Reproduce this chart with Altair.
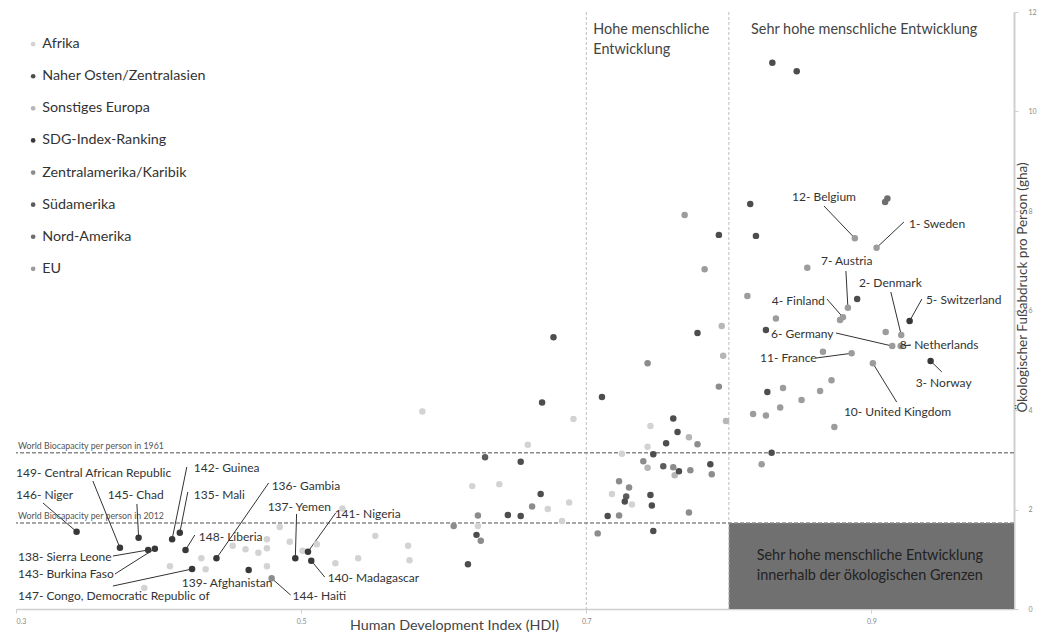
import altair as alt
import pandas as pd

FONT = "Lato"

regions = ["Afrika", "Naher Osten/Zentralasien", "Sonstiges Europa", "SDG-Index-Ranking",
           "Zentralamerika/Karibik", "Südamerika", "Nord-Amerika", "EU"]
region_colors = ["#d3d3d3", "#4d4d4d", "#b6b6b6", "#383838", "#8c8c8c", "#5c5c5c", "#6e6e6e", "#9c9c9c"]

afrika_hdi = [0.390, 0.408, 0.430, 0.433, 0.452, 0.461, 0.470, 0.476, 0.476, 0.476, 0.485, 0.492, 0.501,
              0.511, 0.524, 0.529, 0.552, 0.575, 0.576, 0.540, 0.585, 0.691, 0.659, 0.620, 0.639, 0.673,
              0.688, 0.624, 0.683, 0.745, 0.743, 0.725, 0.718, 0.732]
afrika_gha = [0.42, 0.86, 1.02, 0.80, 1.27, 1.20, 1.13, 1.40, 1.22, 0.86, 1.65, 1.35, 1.17,
              1.30, 0.92, 2.02, 1.47, 1.27, 0.98, 1.02, 3.97, 3.82, 3.30, 2.47, 2.51, 2.01,
              2.14, 1.67, 1.77, 3.68, 3.26, 3.12, 2.31, 2.10]

europa_hdi = [0.795, 0.796, 0.798, 0.772, 0.743, 0.762]
europa_gha = [5.69, 5.09, 3.78, 3.45, 2.84, 2.69]

zentral_hdi = [0.662, 0.624, 0.607, 0.626, 0.740, 0.761, 0.773, 0.788, 0.723, 0.730, 0.723, 0.772,
               0.708, 0.778, 0.743, 0.793]
zentral_gha = [2.06, 1.88, 1.67, 1.37, 2.97, 2.85, 2.79, 2.71, 2.57, 2.44, 1.88, 1.94,
               1.52, 3.31, 4.94, 4.47]

eu_hdi = [0.769, 0.783, 0.855, 0.813, 0.878, 0.833, 0.910, 0.866, 0.872, 0.864, 0.851, 0.838,
          0.836, 0.817, 0.826, 0.874, 0.823]
eu_gha = [7.92, 6.83, 6.86, 6.29, 5.81, 5.84, 5.57, 5.17, 4.60, 4.38, 4.20, 4.44,
          4.05, 3.92, 3.89, 3.66, 2.91]

sued_hdi = [0.629, 0.728, 0.754]
sued_gha = [3.05, 2.26, 2.87]

nord_hdi = [0.9096, 0.9112]
nord_gha = [8.18, 8.25]

nahost_hdi = [0.669, 0.654, 0.668, 0.645, 0.654, 0.623, 0.617, 0.711, 0.761, 0.764, 0.756, 0.747,
              0.765, 0.787, 0.727, 0.745, 0.746, 0.715, 0.747, 0.677, 0.793, 0.778, 0.8305, 0.8476,
              0.815, 0.819, 0.826, 0.827, 0.830, 0.890]
nahost_gha = [4.15, 2.96, 2.31, 1.89, 1.87, 1.49, 0.90, 4.26, 3.83, 3.56, 3.33, 3.11,
              2.77, 2.91, 2.16, 2.29, 2.08, 1.87, 1.57, 5.46, 7.52, 5.55, 10.98, 10.81,
              8.14, 7.50, 5.61, 4.36, 3.14, 6.23]

# labelled countries
lab_text = ["146- Niger", "149- Central African Republic", "145- Chad", "138- Sierra Leone",
            "143- Burkina Faso", "142- Guinea", "135- Mali", "148- Liberia", "136- Gambia",
            "147- Congo, Democratic Republic of", "139- Afghanistan", "144- Haiti", "137- Yemen",
            "141- Nigeria", "140- Madagascar", "12- Belgium", "1- Sweden", "7- Austria",
            "2- Denmark", "4- Finland", "5- Switzerland", "6- Germany", "8- Netherlands",
            "11- France", "10- United Kingdom", "3- Norway"]
lab_region = ["SDG-Index-Ranking"] * 11 + ["Zentralamerika/Karibik"] + ["SDG-Index-Ranking"] * 3 + \
             ["EU"] * 10 + ["SDG-Index-Ranking"]
lab_region[20] = "SDG-Index-Ranking"
lab_hdi = [0.3425, 0.3729, 0.3860, 0.3927, 0.3974, 0.4095, 0.4149, 0.4189, 0.4406, 0.4235, 0.4632,
           0.4793, 0.4959, 0.5048, 0.5071, 0.8884, 0.9036, 0.8835, 0.9209, 0.8800, 0.9268, 0.9146,
           0.9205, 0.8861, 0.9010, 0.9415]
lab_gha = [1.554, 1.232, 1.433, 1.186, 1.212, 1.401, 1.534, 1.186, 1.019, 0.804, 0.784,
           0.617, 1.019, 1.152, 0.971, 7.451, 7.262, 6.056, 5.508, 5.863, 5.789, 5.286,
           5.286, 5.140, 4.939, 4.985]
text_hdi = [0.3000, 0.3000, 0.3644, 0.3014, 0.3014, 0.4247, 0.4247, 0.4282, 0.4793, 0.3014, 0.4163,
            0.4940, 0.4765, 0.5235, 0.5186, 0.8443, 0.9263, 0.8646, 0.8912, 0.8301, 0.9382, 0.8296,
            0.9198, 0.8219, 0.8807, 0.9310]
text_gha = [2.291, 2.734, 2.291, 1.045, 0.704, 2.834, 2.291, 1.447, 2.472, 0.261, 0.523,
            0.261, 2.050, 1.910, 0.623, 8.281, 7.739, 6.995, 6.553, 6.191, 6.211, 5.528,
            5.307, 5.045, 3.960, 4.543]
line_hdi = [0.3189, 0.3539, 0.3848, 0.3680, 0.3694, 0.4198, 0.4205, 0.4254, 0.4772, 0.3680, None,
            0.4926, 0.4968, 0.5242, 0.5165, 0.8667, 0.9228, 0.8821, 0.9136, 0.8688, 0.9354, 0.8751,
            0.9277, 0.8611, 0.9177, 0.9494]
line_gha = [2.131, 2.573, 2.111, 1.065, 0.704, 2.854, 2.352, 1.487, 2.533, 0.462, None,
            0.281, 1.910, 1.930, 0.643, 8.101, 7.779, 6.794, 6.372, 6.231, 6.231, 5.548,
            5.307, 5.045, 4.161, 4.764]

vline_hdi = [0.7, 0.8]
hline_gha = [3.14, 1.73]
hline_text = ["World Biocapacity per person in 1961", "World Biocapacity per person in 2012"]
box_hdi = [0.8, 1.0]
box_gha = [0.0, 1.73]

zone_text = ["Hohe menschliche", "Entwicklung", "Sehr hohe menschliche Entwicklung"]
zone_hdi = [0.7049, 0.7049, 0.8156]
zone_gha = [11.64, 11.24, 11.64]
box_text = ["Sehr hohe menschliche Entwicklung", "innerhalb der ökologischen Grenzen"]
box_text_hdi = [0.8989, 0.8989]
box_text_gha = [1.065, 0.663]

# ---------- tables ----------
rows = []
def add(region, hs, gs):
    for h, g in zip(hs, gs):
        rows.append({"hdi": h, "gha": g, "region": region})

add("Afrika", afrika_hdi, afrika_gha)
add("Sonstiges Europa", europa_hdi, europa_gha)
add("Zentralamerika/Karibik", zentral_hdi, zentral_gha)
add("EU", eu_hdi, eu_gha)
add("Südamerika", sued_hdi, sued_gha)
add("Nord-Amerika", nord_hdi, nord_gha)
add("Naher Osten/Zentralasien", nahost_hdi, nahost_gha)
for h, g, r in zip(lab_hdi, lab_gha, lab_region):
    rows.append({"hdi": h, "gha": g, "region": r})
pts = pd.DataFrame(rows)
pts["order"] = range(len(pts))

labels = pd.DataFrame({"text": lab_text, "hdi": lab_hdi, "gha": lab_gha,
                       "th": text_hdi, "tg": text_gha, "lh": line_hdi, "lg": line_gha})
lines = labels.dropna(subset=["lh"])

W, H = 998, 597
xs = alt.Scale(domain=[0.3, 1.0], nice=False, zero=False)
ys = alt.Scale(domain=[0, 12], nice=False, zero=True)

xaxis = alt.Axis(values=[0.3, 0.5, 0.7, 0.9], format=".1f", grid=False, labelFontSize=7,
                 labelColor="#888", domainColor="#cfcfcf", domainWidth=1.5, tickColor="#cfcfcf",
                 tickSize=4, labelPadding=4, title="Human Development Index (HDI)",
                 titleFont=FONT, titleFontSize=14.3, titleFontWeight="normal", titleColor="#444",
                 titleX=438, titleY=9, titleAnchor="middle", titleBaseline="top", labelFont=FONT)
yaxis = alt.Axis(orient="right", values=[0, 2, 4, 6, 8, 10, 12], grid=False, labelFontSize=7,
                 labelColor="#888", domainColor="#cfcfcf", domainWidth=2, tickColor="#cfcfcf",
                 tickSize=4, labelPadding=10, title="Ökologischer Fußabdruck pro Person (gha)",
                 titleFont=FONT, titleFontSize=13.5, titleFontWeight="normal", titleColor="#444",
                 titleAngle=270, titleX=8, titleY=275, titleAlign="center", titleBaseline="middle",
                 labelFont=FONT)

box = alt.Chart(pd.DataFrame({"x": [box_hdi[0]], "x2": [box_hdi[1]], "y": [box_gha[0]], "y2": [box_gha[1]]})).mark_rect(
    color="#707070").encode(x=alt.X("x:Q", scale=xs, axis=xaxis), x2="x2:Q",
                            y=alt.Y("y:Q", scale=ys, axis=yaxis), y2="y2:Q")

vlines = alt.Chart(pd.DataFrame({"x": vline_hdi})).mark_rule(
    color="#bdbdbd", strokeDash=[3, 2], strokeWidth=1).encode(x=alt.X("x:Q", scale=xs))

hlines = alt.Chart(pd.DataFrame({"y": hline_gha})).mark_rule(
    color="#8a8a8a", strokeDash=[4, 2], strokeWidth=1.5).encode(y=alt.Y("y:Q", scale=ys))

htext = alt.Chart(pd.DataFrame({"y": hline_gha, "t": hline_text, "x": [0.3014, 0.3014]})).mark_text(
    align="left", baseline="bottom", dy=-2, fontSize=8.8, font=FONT, color="#555").encode(
    x=alt.X("x:Q", scale=xs), y=alt.Y("y:Q", scale=ys), text="t:N")

leader = alt.Chart(lines).mark_rule(color="#333", strokeWidth=1).encode(
    x=alt.X("lh:Q", scale=xs), y=alt.Y("lg:Q", scale=ys), x2="hdi:Q", y2="gha:Q")

points = alt.Chart(pts).mark_circle(size=42, opacity=1).encode(
    x=alt.X("hdi:Q", scale=xs),
    y=alt.Y("gha:Q", scale=ys),
    order="order:Q",
    color=alt.Color("region:N", scale=alt.Scale(domain=regions, range=region_colors),
                    legend=alt.Legend(orient="none", legendX=10, legendY=25, title=None,
                                      symbolType="circle", symbolSize=22, labelFontSize=14.3,
                                      labelFont=FONT, labelColor="#333", rowPadding=17.1,
                                      labelOffset=2, labelLimit=400, symbolStrokeWidth=0)))

ltext = alt.Chart(labels).mark_text(align="left", baseline="middle", fontSize=12, font=FONT,
                                    color="#333").encode(
    x=alt.X("th:Q", scale=xs), y=alt.Y("tg:Q", scale=ys), text="text:N")

ztext = alt.Chart(pd.DataFrame({"x": zone_hdi, "y": zone_gha, "t": zone_text})).mark_text(
    align="left", baseline="middle", fontSize=14.4, font=FONT, color="#444").encode(
    x=alt.X("x:Q", scale=xs), y=alt.Y("y:Q", scale=ys), text="t:N")

btext = alt.Chart(pd.DataFrame({"x": box_text_hdi, "y": box_text_gha, "t": box_text})).mark_text(
    align="center", baseline="middle", fontSize=14.4, font=FONT, color="#222").encode(
    x=alt.X("x:Q", scale=xs), y=alt.Y("y:Q", scale=ys), text="t:N")

chart = alt.layer(box, vlines, hlines, htext, leader, points, ltext, ztext, btext).properties(
    width=W, height=H,
    background="white",
    autosize=alt.AutoSizeParams(type="none"),
    padding={"left": 8, "top": 4, "right": 32, "bottom": 27},
).configure_view(stroke=None)

chart.save("out.html", embed_options={"renderer": "svg", "actions": False})
